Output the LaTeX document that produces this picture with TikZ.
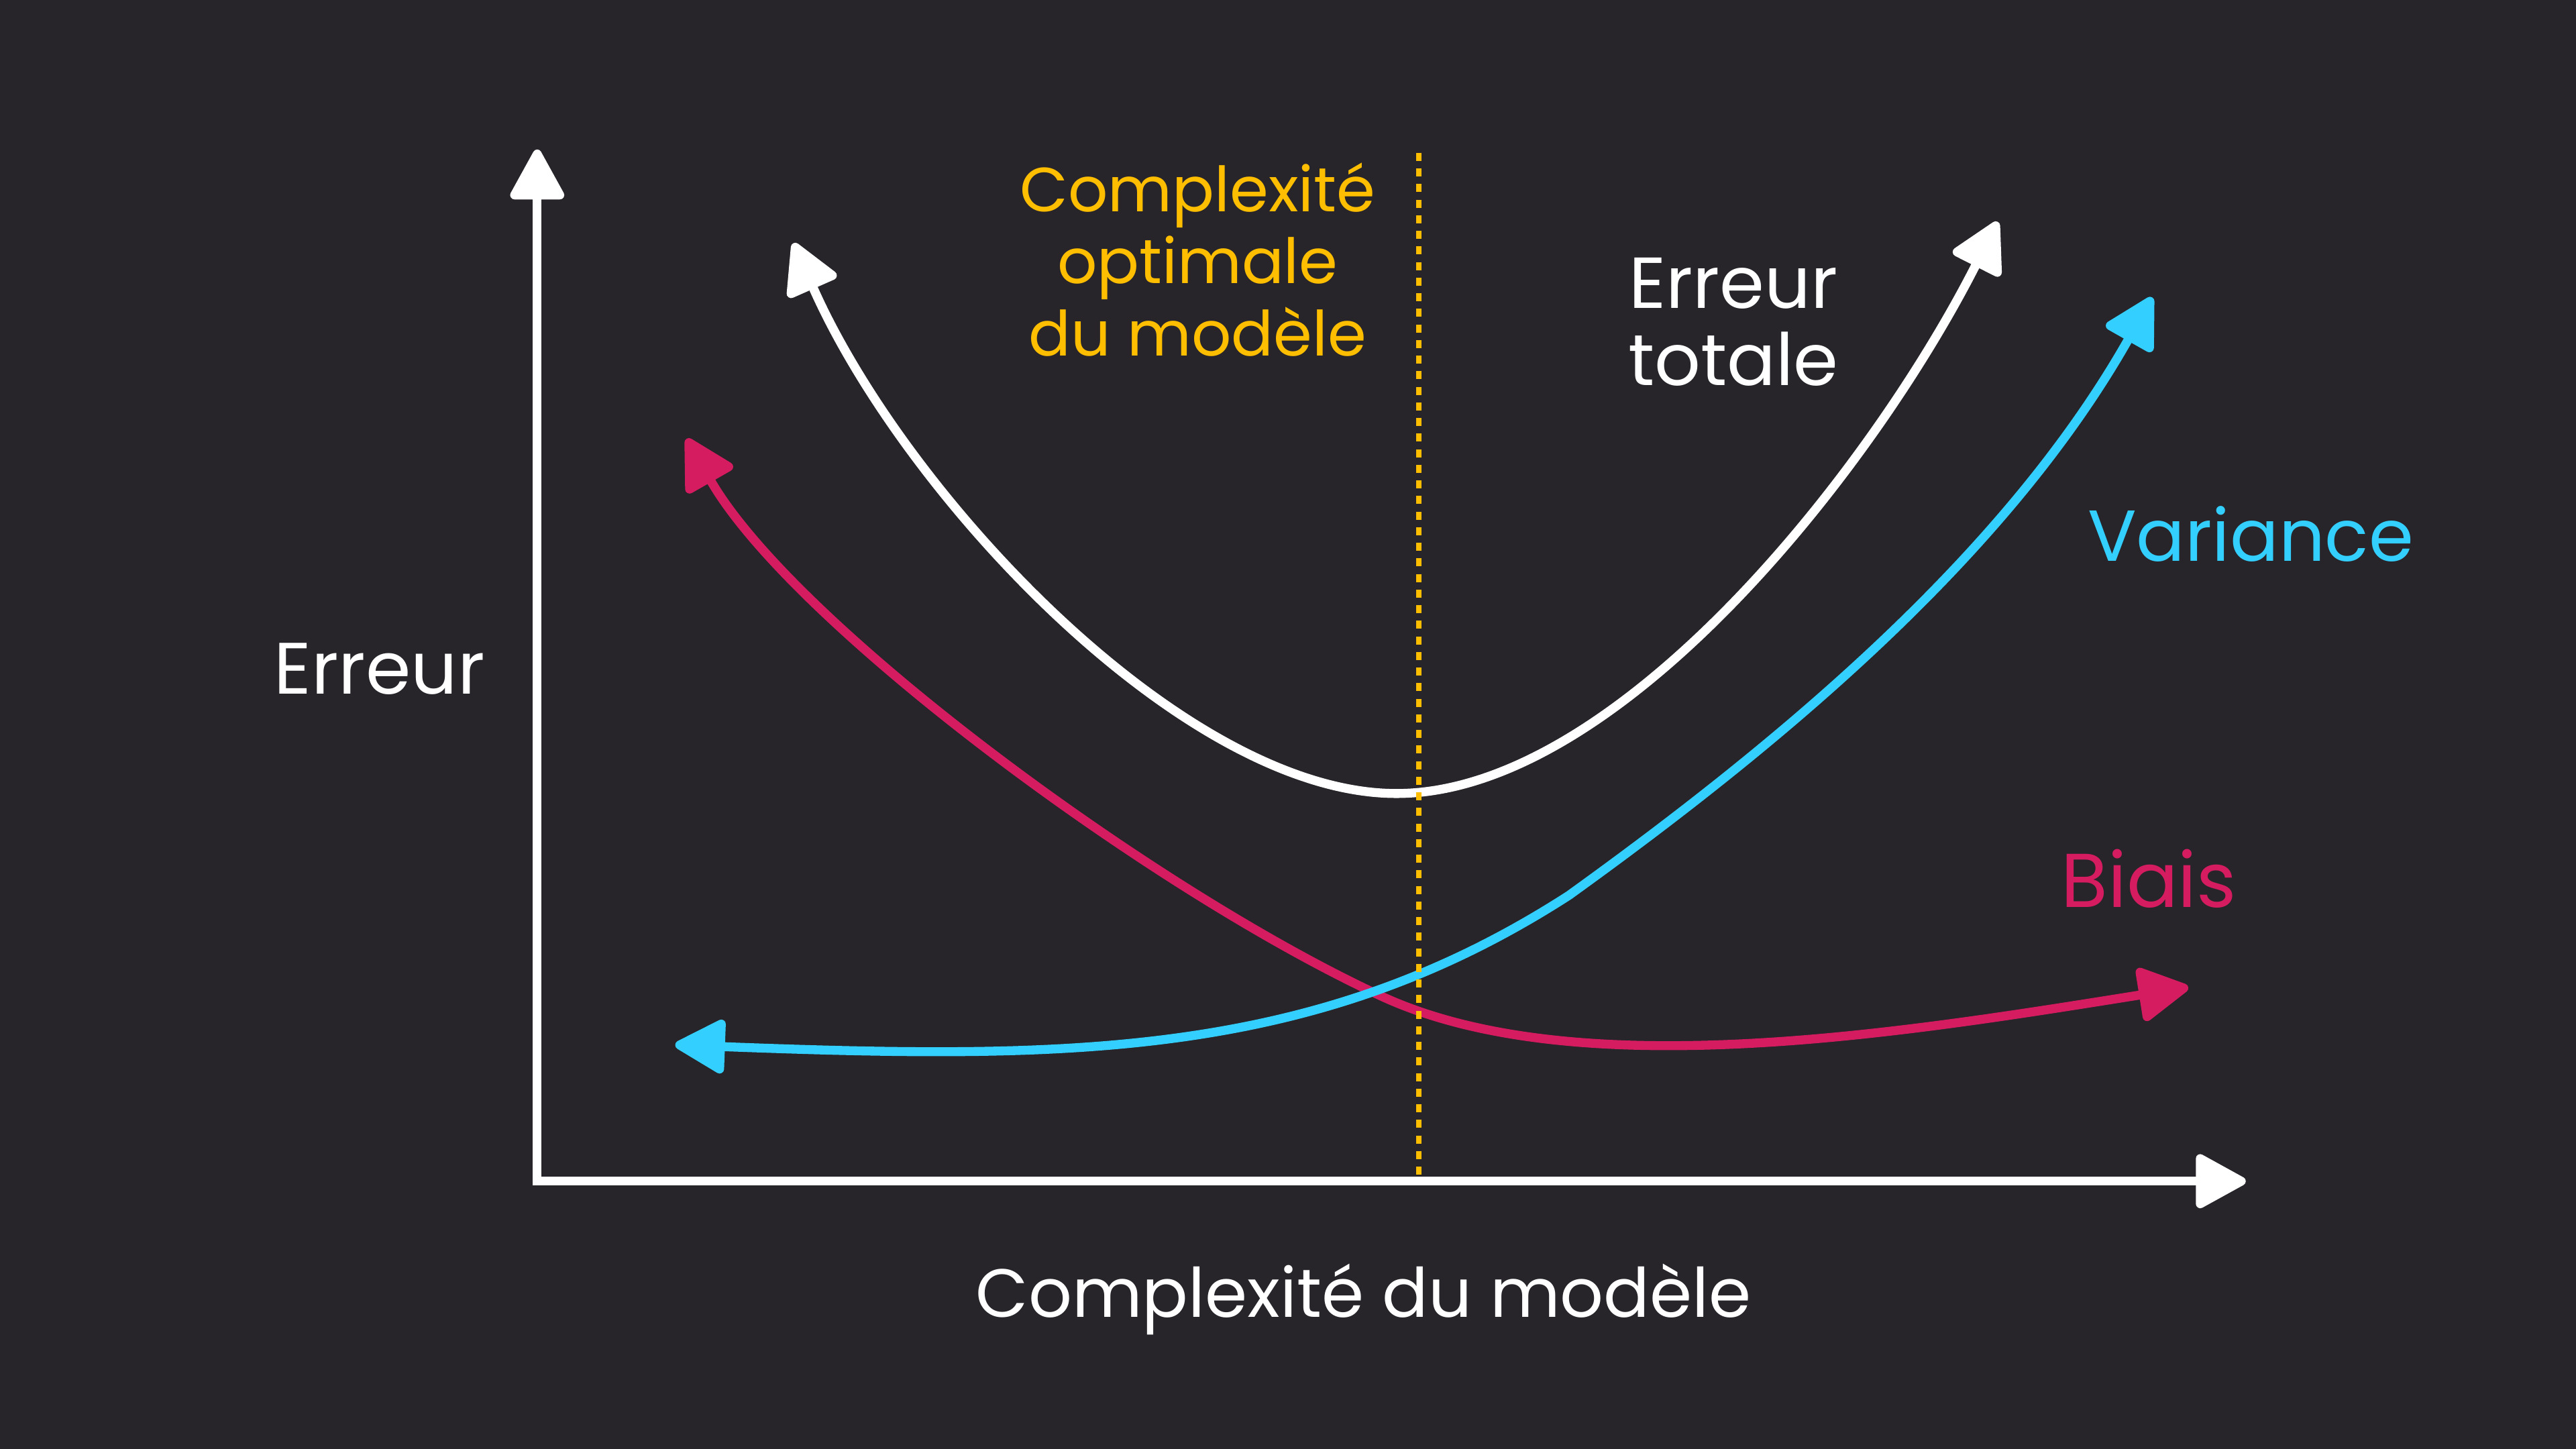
\documentclass[tikz,border=0pt]{standalone}
\usepackage{fontspec}
\setmainfont{Poppins}
\usetikzlibrary{arrows.meta}
\definecolor{bg}{HTML}{27252A}
\definecolor{cyanc}{HTML}{33CFFF}
\definecolor{pinkc}{HTML}{D61C60}
\definecolor{yellowc}{HTML}{FFBF00}
\begin{document}
\begin{tikzpicture}[x=0.01cm,y=-0.01cm,
  tip/.tip={Triangle[length=9.5pt,width=10pt,round]},
  axisline/.style={draw=white,line width=1.5pt,tip-tip},
  curve/.style={line width=1.55pt,tip-tip,line cap=round},
  lbl/.style={align=center,inner sep=0pt},
  optline/.style={draw=yellowc,line width=0.9pt,dash pattern=on 1.4pt off 1.3pt},
]
\fill[bg] (0,0) rectangle (1568,882);
\useasboundingbox (0,0) rectangle (1568,882);
% axes
\coordinate (ytip) at (327,91);
\coordinate (orig) at (327,719);
\coordinate (xtip) at (1367,719);
\draw[axisline] (ytip) -- (orig) -- (xtip);
% total error
\coordinate (w0) at (483,148);
\coordinate (wm) at (850,483);
\coordinate (w1) at (1216,135);
\draw[curve,white] (w0) .. controls (550,300) and (720,483) .. (wm)
  .. controls (985,483) and (1140,285) .. (w1);
% bias
\coordinate (p0) at (418,267);
\coordinate (pm) at (840,606);
\coordinate (p1) at (1332,601);
\draw[curve,pinkc] (p0) .. controls (482,379) and (700,541) .. (pm)
  .. controls (960,662) and (1162,628) .. (p1);
% variance
\coordinate (c0) at (411,636);
\coordinate (cm) at (955,545);
\coordinate (c1) at (1310,181);
\draw[curve,cyanc] (c0) .. controls (650,645) and (800,645) .. (cm)
  .. controls (1080,455) and (1220,340) .. (c1);
% optimal complexity
\coordinate (dtop) at (863.5,93);
\coordinate (dbot) at (863.5,716);
\draw[optline] (dtop) -- (dbot);
% labels
\node[lbl,white,font=\fontsize{12.6}{14}\selectfont] (ylab) at (231,407) {Erreur};
\node[lbl,white,font=\fontsize{11.8}{14}\selectfont] (xlab) at (830,791) {Complexité du modèle};
\node[lbl,yellowc,font=\fontsize{10.8}{12.5}\selectfont] (optlab) at (729,158) {Complexité\\optimale\\du modèle};
\node[lbl,white,font=\fontsize{12.5}{13.4}\selectfont] (totlab) at (1055,196) {Erreur\\totale};
\node[lbl,cyanc,font=\fontsize{12.5}{14}\selectfont] (varlab) at (1370,325) {Variance};
\node[lbl,pinkc,font=\fontsize{13.2}{14}\selectfont] (biaslab) at (1308,535) {Biais};
\end{tikzpicture}
\end{document}
